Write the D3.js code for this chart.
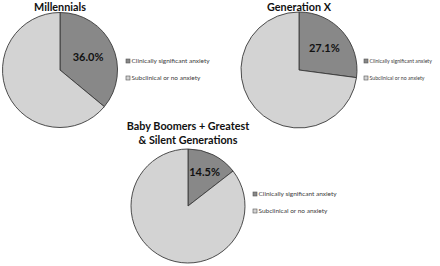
<!DOCTYPE html>
<html>
<head>
<meta charset="utf-8">
<script src="https://cdn.jsdelivr.net/npm/d3@7"></script>
<style>
  body { margin: 0; background: #fff; }
  svg { display: block; font-family: Lato, "Open Sans", sans-serif; }
</style>
</head>
<body>
<div id="chart"></div>
<script>
// Chart data
const groupTitles = [["Millennials"], ["Generation X"], ["Baby Boomers + Greatest", "& Silent Generations"]];
const clinicalPct = [36.0, 27.1, 14.5];
const categories = ["Clinically significant anxiety", "Subclinical or no anxiety"];
const sliceColors = ["#888888", "#d3d3d3"];

// Where each pie sits in the window
const panels = [
    { cx: 60, cy: 70, r: 57.5, titleY: 10.5, labelR: 0.54, legendX: 126, legendY: 61, legendSize: 6.5 },
    { cx: 299, cy: 70, r: 58, titleY: 10.5, labelR: 0.58, legendX: 364, legendY: 61, legendSize: 5.2 },
    { cx: 188, cy: 206, r: 57, titleY: 130, labelR: 0.66, legendX: 253, legendY: 194, legendSize: 6.5 }
];

const width = 440, height = 266;

const svg = d3.select("#chart")
    .append("svg")
    .attr("width", width)
    .attr("height", height);

const color = d3.scaleOrdinal()
    .domain(categories)
    .range(sliceColors);

const pie = d3.pie().sort(null).value(d => d.value);

panels.forEach((p, i) => {
    const values = [
        { key: categories[0], value: clinicalPct[i] },
        { key: categories[1], value: 100 - clinicalPct[i] }
    ];

    const g = svg.append("g")
        .attr("transform", "translate(" + p.cx + "," + p.cy + ")");

    const arc = d3.arc().innerRadius(0).outerRadius(p.r);
    const labelArc = d3.arc().innerRadius(p.r * p.labelR).outerRadius(p.r * p.labelR);

    const arcs = g.selectAll(".slice")
        .data(pie(values))
        .enter()
        .append("g")
        .attr("class", "slice");

    arcs.append("path")
        .attr("d", arc)
        .attr("fill", d => color(d.data.key))
        .attr("stroke", "#3a3a3a")
        .attr("stroke-width", 0.9);

    // Percentage label only on the clinical slice
    arcs.filter((d, j) => j === 0)
        .append("text")
        .attr("transform", d => "translate(" + labelArc.centroid(d) + ")")
        .attr("dy", "0.35em")
        .attr("text-anchor", "middle")
        .attr("font-size", 11)
        .attr("font-weight", "bold")
        .attr("fill", "#111")
        .text(d => d.data.value.toFixed(1) + "%");

    // Title
    svg.append("text")
        .attr("x", p.cx)
        .attr("y", p.titleY)
        .attr("text-anchor", "middle")
        .attr("font-size", 10.8)
        .attr("font-weight", "bold")
        .attr("fill", "#111")
        .selectAll("tspan")
        .data(groupTitles[i])
        .enter()
        .append("tspan")
        .attr("x", p.cx)
        .attr("dy", (d, j) => j === 0 ? 0 : 14)
        .text(d => d);

    // Legend
    const legend = svg.selectAll(".legend" + i)
        .data(categories)
        .enter()
        .append("g")
        .attr("transform", (d, j) => "translate(" + p.legendX + "," + (p.legendY + j * 17) + ")");

    legend.append("rect")
        .attr("x", 0)
        .attr("y", -2)
        .attr("width", 4)
        .attr("height", 4)
        .attr("fill", d => color(d))
        .attr("stroke", "#555")
        .attr("stroke-width", 0.6);

    legend.append("text")
        .attr("x", 5.5)
        .attr("y", 0)
        .attr("dy", "0.35em")
        .attr("font-size", p.legendSize)
        .attr("fill", "#404040")
        .text(d => d);
});
</script>
</body>
</html>
